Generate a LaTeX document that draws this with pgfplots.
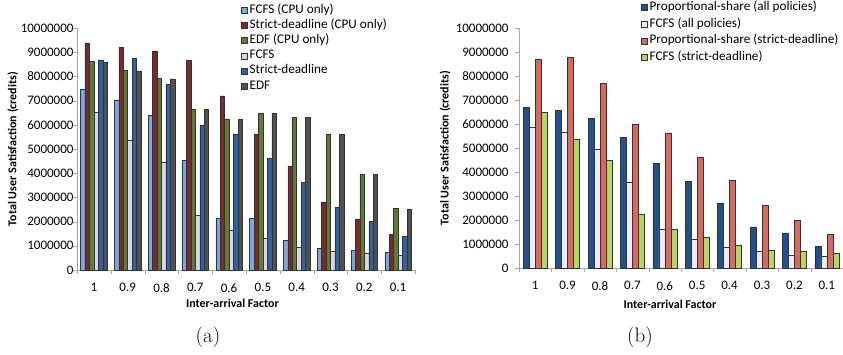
\documentclass[border=0pt]{standalone}
\usepackage{pgfplots}
\pgfplotsset{compat=1.18}
\usepackage{fontspec}
\newfontfamily\carl{Carlito}
\definecolor{a1}{HTML}{7DA7D9}
\definecolor{a2}{HTML}{772C2A}
\definecolor{a3}{HTML}{5F7A35}
\definecolor{a4}{HTML}{DDD5EC}
\definecolor{a5}{HTML}{2F639E}
\definecolor{a6}{HTML}{505050}
\definecolor{b1}{HTML}{22508A}
\definecolor{b2}{HTML}{EEEAF6}
\definecolor{b3}{HTML}{D9695F}
\definecolor{b4}{HTML}{B7D46C}
\pgfplotsset{
 mystyle/.style={
  scale only axis, anchor=south west,
  ymin=0, ymax=10000000, xmin=-0.5, xmax=9.5,
  scaled y ticks=false,
  axis lines*=left, axis line style={draw=gray!70},
  ytick={0,1000000,...,10000000},
  yticklabels={0,1000000,2000000,3000000,4000000,5000000,6000000,7000000,8000000,9000000,10000000},
  xtick={0,...,9}, xticklabels={1,0.9,0.8,0.7,0.6,0.5,0.4,0.3,0.2,0.1},
  minor xtick={-0.5,0.5,...,9.5},
  major x tick style={draw=none},
  minor tick length=4pt, major tick length=4pt,
  tick align=outside, tick style={draw=gray!70},
  ticklabel style={font=\carl\fontsize{13}{14}\selectfont},
  xticklabel style={yshift=-6pt},
  label style={font=\carl\bfseries\fontsize{12}{14}\selectfont},
  ybar=0pt,
  every axis plot/.append style={draw=black!80, line width=0.5pt},
  legend style={draw=none, fill=none, font=\carl\fontsize{13.2}{14}\selectfont,
    nodes={inner ysep=0pt, inner xsep=2pt, text height=9pt, text depth=3pt}},
  legend cell align=left,
  legend image code/.code={\draw[#1] (0pt,-3pt) rectangle (6pt,3pt);},
  clip=false,
 }
}
\begin{document}
\begin{tikzpicture}
\path[use as bounding box] (0,0) rectangle (843pt,354pt);
\begin{axis}[mystyle, at={(77pt,84pt)}, width=338pt, height=242pt, bar width=4.45pt,
  xlabel={Inter-arrival Factor}, ylabel={Total User Satisfaction (credits)},
  xlabel style={at={(axis description cs:0.46,-0.136)}, anchor=center},
  ylabel style={at={(axis description cs:-0.19,0.5)}, anchor=center},
  yticklabel style={xshift=4pt},
  legend style={at={(0.476,1.106)}, anchor=north west, row sep=3.1pt}]
\addplot[fill=a1] coordinates {(0,7450000) (1,7030000) (2,6400000) (3,4520000) (4,2140000) (5,2140000) (6,1230000) (7,900000) (8,800000) (9,750000)};
\addplot[fill=a2] coordinates {(0,9350000) (1,9200000) (2,9050000) (3,8680000) (4,7200000) (5,5620000) (6,4300000) (7,2820000) (8,2110000) (9,1470000)};
\addplot[fill=a3] coordinates {(0,8620000) (1,8250000) (2,7920000) (3,6650000) (4,6250000) (5,6480000) (6,6300000) (7,5620000) (8,3950000) (9,2560000)};
\addplot[fill=a4] coordinates {(0,6500000) (1,5380000) (2,4450000) (3,2250000) (4,1630000) (5,1300000) (6,930000) (7,780000) (8,710000) (9,620000)};
\addplot[fill=a5] coordinates {(0,8680000) (1,8750000) (2,7670000) (3,6000000) (4,5620000) (5,4620000) (6,3620000) (7,2600000) (8,2000000) (9,1400000)};
\addplot[fill=a6] coordinates {(0,8600000) (1,8230000) (2,7900000) (3,6650000) (4,6230000) (5,6480000) (6,6300000) (7,5600000) (8,3940000) (9,2530000)};
\legend{FCFS (CPU only),Strict-deadline (CPU only),EDF (CPU only),FCFS,Strict-deadline,EDF}
\end{axis}
\begin{axis}[mystyle, at={(519pt,86pt)}, width=324pt, height=240pt, bar width=6pt,
  xlabel={Inter-arrival Factor}, ylabel={Total User Satisfaction (credits)},
  xlabel style={at={(axis description cs:0.466,-0.15)}, anchor=center},
  ylabel style={at={(axis description cs:-0.228,0.5)}, anchor=center},
  yticklabel style={xshift=-3pt},
  legend style={at={(0.367,1.12)}, anchor=north west, row sep=4.7pt}]
\addplot[fill=b1] coordinates {(0,6700000) (1,6570000) (2,6250000) (3,5430000) (4,4370000) (5,3600000) (6,2680000) (7,1710000) (8,1460000) (9,900000)};
\addplot[fill=b2] coordinates {(0,5850000) (1,5650000) (2,4950000) (3,3570000) (4,1630000) (5,1210000) (6,860000) (7,690000) (8,530000) (9,500000)};
\addplot[fill=b3] coordinates {(0,8680000) (1,8770000) (2,7680000) (3,6000000) (4,5630000) (5,4630000) (6,3650000) (7,2620000) (8,2000000) (9,1390000)};
\addplot[fill=b4] coordinates {(0,6500000) (1,5380000) (2,4470000) (3,2260000) (4,1630000) (5,1290000) (6,940000) (7,740000) (8,690000) (9,610000)};
\legend{Proportional-share (all policies),FCFS (all policies),Proportional-share (strict-deadline),FCFS (strict-deadline)}
\end{axis}
\node at (208pt,17pt) {\fontsize{21}{24}\selectfont (a)};
\node at (640pt,17pt) {\fontsize{21}{24}\selectfont (b)};
\end{tikzpicture}
\end{document}
